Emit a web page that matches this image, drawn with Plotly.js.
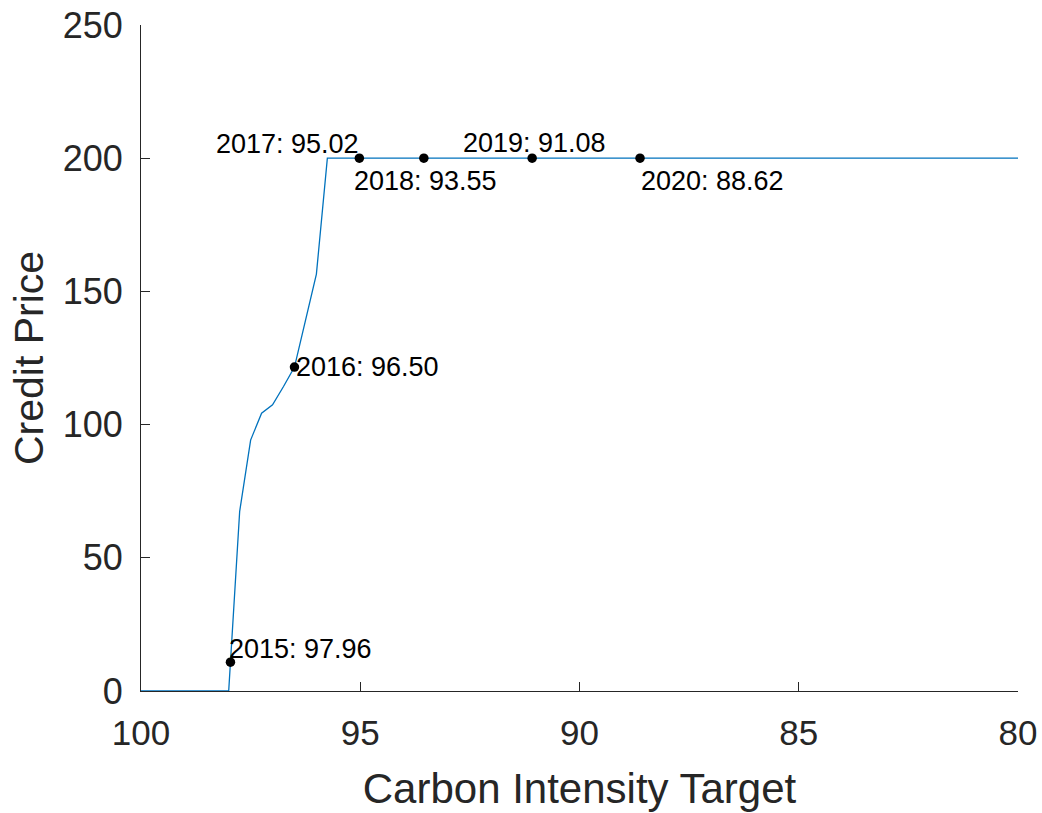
<!DOCTYPE html>
<html>
<head>
<meta charset="utf-8">
<script src="https://cdn.plot.ly/plotly-3.0.1.min.js"></script>
<style>
  html, body { margin: 0; padding: 0; background: #ffffff; }
  #chart { width: 1042px; height: 813px; }
</style>
</head>
<body>
<div id="chart"></div>
<script>
// Credit price response curve against the carbon intensity target
const ciTarget    = [100, 98.0, 97.75, 97.5, 97.25, 97.0, 96.75, 96.5, 96.25, 96.0, 95.75, 80];
const creditPrice = [0,   0,    67.4,  94.2, 104.3, 107.4, 114.3, 121.6, 139.0, 156.5, 200, 200];

// Yearly targets marked on the curve
const years       = [2015, 2016, 2017, 2018, 2019, 2020];
const yearTargets = [97.96, 96.50, 95.02, 93.55, 91.08, 88.62];
const yearPrices  = [10.8, 121.6, 200, 200, 200, 200];

// Axis ticks
const xTicks = [100, 95, 90, 85, 80];
const yTicks = [0, 50, 100, 150, 200, 250];

// Where each year label sits relative to its marker
const labelPlacement = [
  { xanchor: 'left',   xshift: -3, yshift: 13 },
  { xanchor: 'left',   xshift: 0,  yshift: 0 },
  { xanchor: 'right',  xshift: 2,  yshift: 14 },
  { xanchor: 'center', xshift: 2,  yshift: -23 },
  { xanchor: 'center', xshift: 2,  yshift: 15 },
  { xanchor: 'left',   xshift: -1, yshift: -23 }
];

const FONT = 'Liberation Sans, Arial, Helvetica, sans-serif';
const AXIS_COLOR = '#262626';

const curve = {
  x: ciTarget,
  y: creditPrice,
  type: 'scatter',
  mode: 'lines',
  line: { color: '#0072BD', width: 1.3 },
  hoverinfo: 'x+y',
  showlegend: false
};

const markers = {
  x: yearTargets,
  y: yearPrices,
  type: 'scatter',
  mode: 'markers',
  marker: { color: '#000000', size: 9.5 },
  text: years.map(String),
  showlegend: false
};

const annotations = years.map((yr, i) => ({
  x: yearTargets[i],
  y: yearPrices[i],
  xref: 'x',
  yref: 'y',
  text: yr + ': ' + yearTargets[i].toFixed(2),
  showarrow: false,
  xanchor: labelPlacement[i].xanchor,
  yanchor: 'middle',
  xshift: labelPlacement[i].xshift,
  yshift: labelPlacement[i].yshift,
  font: { family: FONT, size: 27, color: '#000000' }
}));

const layout = {
  width: 1042,
  height: 813,
  margin: { l: 141, r: 24, t: 25, b: 122 },
  paper_bgcolor: '#ffffff',
  plot_bgcolor: '#ffffff',
  showlegend: false,
  font: { family: FONT, color: AXIS_COLOR },
  xaxis: {
    range: [100, 80],
    tickvals: xTicks,
    ticktext: xTicks.map(String),
    ticks: 'inside',
    ticklen: 9,
    tickwidth: 1,
    tickcolor: AXIS_COLOR,
    showline: true,
    linecolor: AXIS_COLOR,
    linewidth: 1,
    mirror: false,
    showgrid: false,
    zeroline: false,
    tickfont: { family: FONT, size: 35, color: AXIS_COLOR },
    ticklabelstandoff: 11,
    title: {
      text: 'Carbon Intensity Target',
      font: { family: FONT, size: 42, color: AXIS_COLOR },
      standoff: 22
    }
  },
  yaxis: {
    range: [0, 250],
    tickvals: yTicks,
    ticktext: yTicks.map(String),
    ticks: 'inside',
    ticklen: 9,
    tickwidth: 1,
    tickcolor: AXIS_COLOR,
    showline: true,
    linecolor: AXIS_COLOR,
    linewidth: 1,
    mirror: false,
    showgrid: false,
    zeroline: false,
    tickfont: { family: FONT, size: 36, color: AXIS_COLOR },
    ticklabelstandoff: 10,
    title: {
      text: 'Credit Price',
      font: { family: FONT, size: 41, color: AXIS_COLOR },
      standoff: 6
    }
  },
  annotations: annotations
};

Plotly.newPlot('chart', [curve, markers], layout, { displayModeBar: false, staticPlot: true });
</script>
</body>
</html>
